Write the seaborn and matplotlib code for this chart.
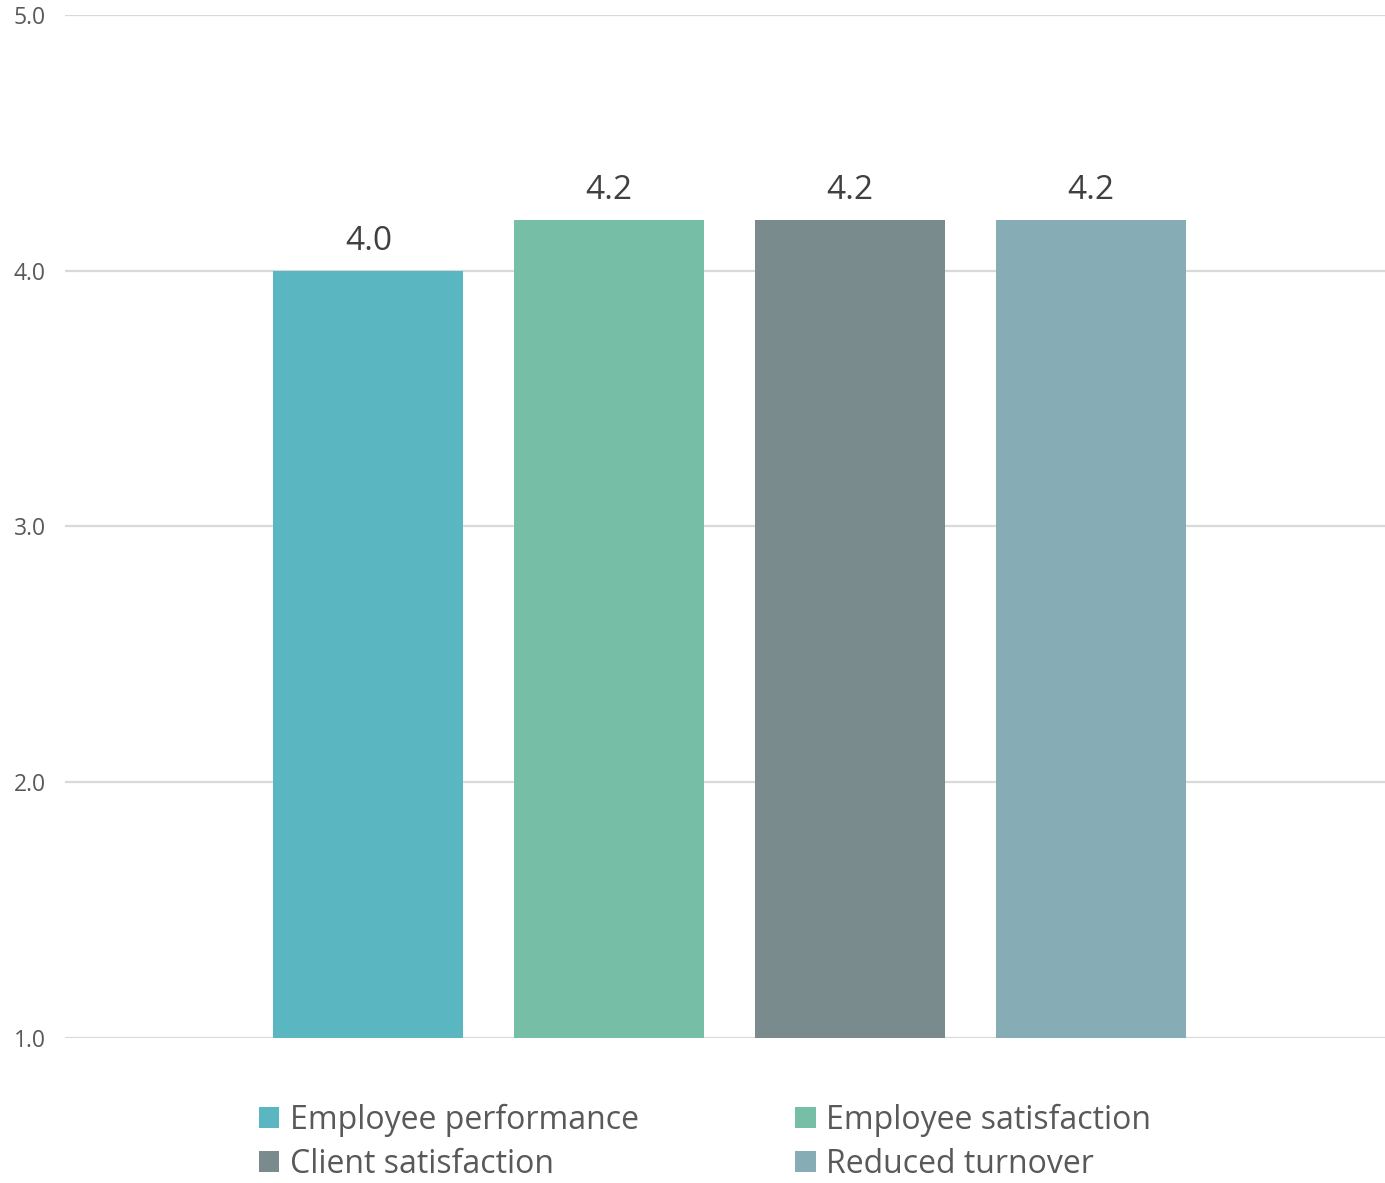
import matplotlib
matplotlib.use("Agg")
import matplotlib.pyplot as plt
import seaborn as sns
import pandas as pd

# Survey outcome scores (1-5 scale)
categories = ["Employee performance", "Employee satisfaction", "Client satisfaction", "Reduced turnover"]
scores = [4.0, 4.2, 4.2, 4.2]
colors = ["#5AB6C0", "#77BEA7", "#7A8B8E", "#86ACB6"]
y_ticks = [1.0, 2.0, 3.0, 4.0, 5.0]

df = pd.DataFrame({"group": [""] * len(categories), "measure": categories, "score": scores})

sns.set_theme(style="white")
plt.rcParams["font.family"] = ["Open Sans", "DejaVu Sans"]

fig = plt.figure(figsize=(13.85, 11.83), dpi=100)
ax = fig.add_axes([0.047, 0.1226, 0.953, 0.8647])

sns.barplot(data=df, x="group", y="score", hue="measure", hue_order=categories,
            palette=colors, width=0.73, gap=0.21, saturation=1, ax=ax,
            errorbar=None, legend=True, linewidth=0)

ax.set_ylim(1.0, 5.0)
ax.set_xlim(-0.5035, 0.4965)
ax.set_yticks(y_ticks)
ax.set_yticklabels([f"{t:.1f}" for t in y_ticks], color="#595959", fontsize=16.5)
ax.tick_params(axis="y", length=0, pad=14)
ax.set_xticks([])
ax.set_xlabel("")
ax.set_ylabel("")
ax.grid(axis="y", color="#D9D9D9", linewidth=1.6)
ax.set_axisbelow(True)
for s in ax.spines.values():
    s.set_visible(False)

for container in ax.containers:
    ax.bar_label(container, fmt="%.1f", padding=9, fontsize=24, color="#404040")

# Legend laid out row by row: matplotlib fills columns first, so reorder
handles, labels = ax.get_legend_handles_labels()
order = [0, 2, 1, 3]
ax.get_legend().remove()
leg = fig.legend([handles[i] for i in order], [labels[i] for i in order],
                 loc="upper center", bbox_to_anchor=(0.509, 0.0805),
                 ncol=2, frameon=False, fontsize=23,
                 handlelength=0.65, handleheight=0.65, handletextpad=0.32,
                 columnspacing=4.9, labelspacing=0.34, borderpad=0)
for t in leg.get_texts():
    t.set_color("#595959")

fig.savefig("out.png", dpi=100)
